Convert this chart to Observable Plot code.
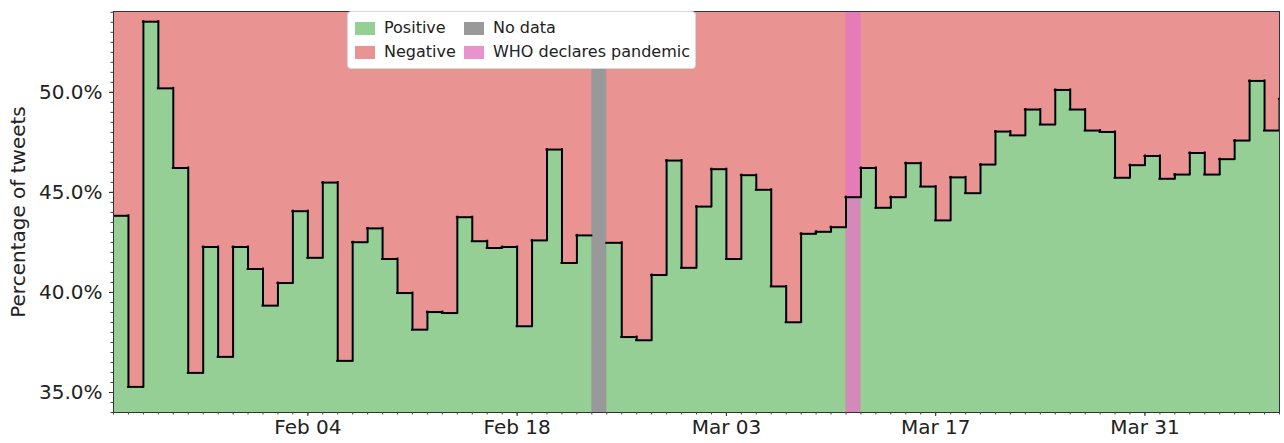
<!DOCTYPE html>
<html><head><meta charset="utf-8">
<script src="https://cdn.jsdelivr.net/npm/d3@7"></script>
<script src="https://cdn.jsdelivr.net/npm/@observablehq/plot@0.6"></script>
<style>
body{margin:0;background:#fff;}
#wrap{position:relative;width:1284px;height:443px;font-family:"DejaVu Sans", sans-serif;}
.legend{position:absolute;left:347px;top:11px;width:349px;height:58px;box-sizing:border-box;background:#fff;border:1px solid #d8d8d8;border-radius:4px;font-size:16px;color:#222;}
.item{position:absolute;display:flex;align-items:center;white-space:nowrap;line-height:14px;}
.sw{width:20px;height:13px;margin-right:9px;flex:none;}
</style></head><body><div id="wrap"></div>
<script>
const startDate = new Date(Date.UTC(2020, 0, 22));
// Share of positive tweets per day (%); null = no data
const positive = [
  43.83, 35.28, 53.53, 50.20, 46.22, 35.98, 42.27, 36.78, 42.27, 41.17,
  39.34, 40.47, 44.06, 41.73, 45.49, 36.58, 42.51, 43.20, 41.67, 39.97,
  38.14, 39.02, 38.97, 43.76, 42.56, 42.22, 42.27, 38.31, 42.60, 47.14,
  41.47, 42.85, null, 42.48, 37.77, 37.61, 40.87, 46.59, 41.23,
  44.29, 46.16, 41.67, 45.86, 45.13, 40.30, 38.51, 42.93, 43.03, 43.26,
  44.76, 46.22, 44.23, 44.76, 46.46, 45.29, 43.60, 45.75, 44.96, 46.39,
  48.04, 47.85, 49.14, 48.39, 50.12, 49.14, 48.09, 48.02, 45.73, 46.36, 46.82,
  45.68, 45.89, 46.97, 45.89, 46.66, 47.59, 50.57, 48.09, 49.67
];
const negative = positive.map(v => v == null ? null : 100 - v);
const dates = positive.map((_, i) => d3.utcDay.offset(startDate, i));
const majorTicks = [new Date(Date.UTC(2020,1,4)), new Date(Date.UTC(2020,1,18)), new Date(Date.UTC(2020,2,3)), new Date(Date.UTC(2020,2,17)), new Date(Date.UTC(2020,2,31))];
const majorTickLabels = ["Feb 04", "Feb 18", "Mar 03", "Mar 17", "Mar 31"];
const yTicks = [35, 40, 45, 50];
const yMinorTicks = d3.range(34, 54.01, 0.5);
const noDataDays = [new Date(Date.UTC(2020,1,23))];
const pandemicDays = [new Date(Date.UTC(2020,2,11))];

const labelMap = new Map(majorTicks.map((d, i) => [+d, majorTickLabels[i]]));
const rows = dates.map((d, i) => ({date: d, next: d3.utcDay.offset(d, 1), pos: positive[i], neg: negative[i], prev: i > 0 ? positive[i-1] : null}));
const defined = rows.filter(r => r.pos != null);
const verticals = defined.filter(r => r.prev != null);
const nextDay = d => d3.utcDay.offset(d, 1);

const chart = Plot.plot({
  width: 1284, height: 443,
  marginLeft: 113, marginRight: 5, marginTop: 11, marginBottom: 31,
  x: {type: "utc", domain: [dates[0], dates[dates.length - 1]]},
  y: {domain: [34, 54.04]},
  style: {fontFamily: "'DejaVu Sans', sans-serif", fontSize: "20px", color: "#222", background: "#fff"},
  marks: [
    Plot.rect(defined, {x1: "date", x2: "next", y1: "pos", y2: d => d.pos + d.neg, fill: "#ea9393", insetLeft: -0.6, insetRight: -0.6, clip: true}),
    Plot.rect(defined, {x1: "date", x2: "next", y1: 0, y2: "pos", fill: "#95cf95", insetLeft: -0.6, insetRight: -0.6, clip: true}),
    Plot.rect(noDataDays, {x1: d => d, x2: nextDay, y1: 0, y2: 100, fill: "#999999", clip: true}),
    Plot.rect(pandemicDays, {x1: d => d, x2: nextDay, y1: 0, y2: 100, fill: "#e377c2", fillOpacity: 0.8, clip: true}),
    Plot.ruleY(defined, {x1: "date", x2: "next", y: "pos", stroke: "#000", strokeWidth: 2, strokeLinecap: "square", clip: true}),
    Plot.ruleX(verticals, {x: "date", y1: "prev", y2: "pos", stroke: "#000", strokeWidth: 2, strokeLinecap: "square", clip: true}),
    Plot.frame({stroke: "#333", strokeWidth: 1}),
    Plot.axisY({ticks: yTicks, tickFormat: d => d.toFixed(1) + "%", tickSize: 4, tickPadding: 7, label: null, stroke: "#222"}),
    Plot.axisY({ticks: yMinorTicks, tickSize: 2.5, text: null, label: null, stroke: "#444"}),
    Plot.axisX({ticks: majorTicks, tickFormat: d => labelMap.get(+d), tickSize: 4, tickPadding: 3, label: null, stroke: "#222"}),
    Plot.axisX({ticks: dates, tickSize: 2.5, text: null, label: null, stroke: "#444"}),
    Plot.text(["Percentage of tweets"], {frameAnchor: "left", textAnchor: "middle", rotate: -90, dx: -95, fontSize: 20, fill: "#222"})
  ]
});
const wrap = document.getElementById("wrap");
wrap.appendChild(chart);

const legendItems = [
  {label: "Positive", color: "#95cf95", left: 7, top: 9},
  {label: "Negative", color: "#ea9393", left: 7, top: 33},
  {label: "No data", color: "#999999", left: 116, top: 9},
  {label: "WHO declares pandemic", color: "#e892ce", left: 116, top: 33}
];
const legend = document.createElement("div");
legend.className = "legend";
for (const it of legendItems) {
  const el = document.createElement("div");
  el.className = "item";
  el.style.left = it.left + "px";
  el.style.top = it.top + "px";
  const sw = document.createElement("span");
  sw.className = "sw";
  sw.style.background = it.color;
  const tx = document.createElement("span");
  tx.textContent = it.label;
  el.appendChild(sw); el.appendChild(tx);
  legend.appendChild(el);
}
wrap.appendChild(legend);
</script></body></html>
